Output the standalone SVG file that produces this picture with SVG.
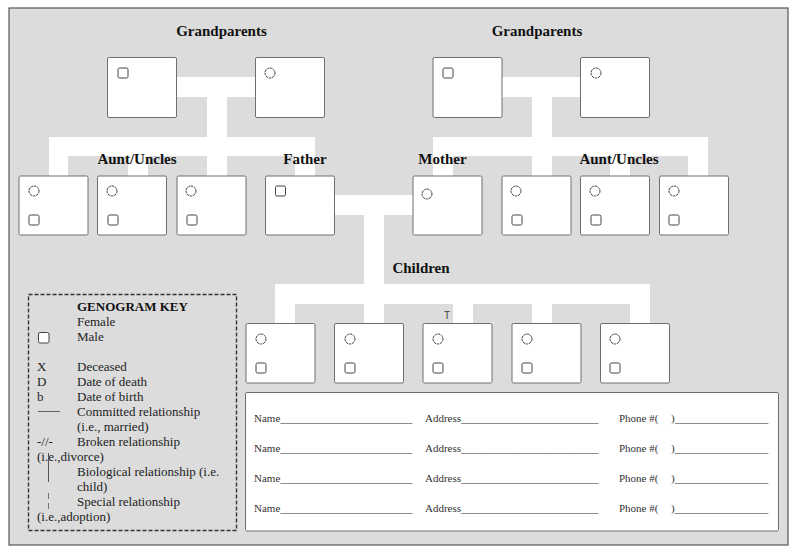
<svg xmlns="http://www.w3.org/2000/svg" width="800" height="556" viewBox="0 0 800 556">
<style>
.frame{fill:#dcdcdc;stroke:#555;stroke-width:1.2}
.conn rect{fill:#fff;stroke:none}
.box{fill:#fff;stroke:#6e6e6e;stroke-width:1}
.sq{fill:#fff;stroke:#444;stroke-width:1}
.ci{fill:#fff;stroke:#444;stroke-width:1;stroke-dasharray:2.6 0.6}
.lbl{font-family:"Liberation Serif",serif;font-weight:bold;font-size:15px;fill:#111;text-anchor:middle}
.key{font-family:"Liberation Serif",serif;font-size:13px;fill:#222}
.keyb{font-family:"Liberation Serif",serif;font-size:13px;font-weight:bold;fill:#111}
.form{font-family:"Liberation Serif",serif;font-size:11px;fill:#333}
.t{font-family:"Liberation Sans",sans-serif;font-size:10px;fill:#444;text-anchor:middle}
</style>
<rect x="0" y="0" width="800" height="556" fill="#fff"/>
<rect class="frame" x="9" y="8" width="779" height="537"/>

<g id="connectors" class="conn">
  <rect x="177" y="77" width="78" height="20"/>
  <rect x="207" y="97" width="20" height="79"/>
  <rect x="49" y="137" width="266" height="19"/>
  <rect x="49" y="156" width="19" height="20"/>
  <rect x="128" y="156" width="20" height="20"/>
  <rect x="295" y="156" width="20" height="20"/>
  <rect x="502" y="77" width="78" height="20"/>
  <rect x="532" y="97" width="20" height="79"/>
  <rect x="433" y="137" width="275" height="19"/>
  <rect x="433" y="156" width="20" height="20"/>
  <rect x="610" y="156" width="20" height="20"/>
  <rect x="688" y="156" width="20" height="20"/>
  <rect x="335" y="195" width="78" height="20"/>
  <rect x="364" y="215" width="20" height="108"/>
  <rect x="275" y="284" width="375" height="20"/>
  <rect x="275" y="304" width="20" height="19"/>
  <rect x="453" y="304" width="20" height="19"/>
  <rect x="532" y="304" width="20" height="19"/>
  <rect x="630" y="304" width="20" height="19"/>
</g>

<g id="labels">
  <text class="lbl" x="221.5" y="36">Grandparents</text>
  <text class="lbl" x="537" y="36">Grandparents</text>
  <text class="lbl" x="137" y="164">Aunt/Uncles</text>
  <text class="lbl" x="305" y="164">Father</text>
  <text class="lbl" x="442.5" y="164">Mother</text>
  <text class="lbl" x="619" y="164">Aunt/Uncles</text>
  <text class="lbl" x="421" y="273">Children</text>
  <text class="t" x="447" y="319">T</text>
</g>

<g id="gp-left-1"><rect class="box" x="107.5" y="57.5" width="69" height="60" rx="1.5"/><rect class="sq" x="118" y="68" width="10" height="10" rx="1.5"/></g>
<g id="gp-left-2"><rect class="box" x="255.5" y="57.5" width="69" height="60" rx="1.5"/><circle class="ci" cx="270" cy="73" r="5"/></g>
<g id="gp-right-1"><rect class="box" x="433" y="57.5" width="69" height="60" rx="1.5"/><rect class="sq" x="443" y="68" width="10" height="10" rx="1.5"/></g>
<g id="gp-right-2"><rect class="box" x="580.5" y="57.5" width="69" height="60" rx="1.5"/><circle class="ci" cx="596" cy="73" r="5"/></g>

<g id="aunt-left-1"><rect class="box" x="19" y="176" width="69" height="59" rx="1.5"/><circle class="ci" cx="34" cy="191" r="5"/><rect class="sq" x="29" y="215" width="10" height="10" rx="1.5"/></g>
<g id="aunt-left-2"><rect class="box" x="97.5" y="176" width="69" height="59" rx="1.5"/><circle class="ci" cx="112" cy="191" r="5"/><rect class="sq" x="108" y="215" width="10" height="10" rx="1.5"/></g>
<g id="aunt-left-3"><rect class="box" x="177" y="176" width="69" height="59" rx="1.5"/><circle class="ci" cx="191" cy="191" r="5"/><rect class="sq" x="187" y="215" width="10" height="10" rx="1.5"/></g>
<g id="father"><rect class="box" x="265.5" y="176" width="69" height="59" rx="1.5"/><rect class="sq" x="275.5" y="186" width="10" height="10" rx="1.5"/></g>
<g id="mother"><rect class="box" x="413" y="176" width="69" height="59" rx="1.5"/><circle class="ci" cx="427" cy="194" r="5"/></g>
<g id="aunt-right-1"><rect class="box" x="502" y="176" width="69" height="59" rx="1.5"/><circle class="ci" cx="516" cy="191" r="5"/><rect class="sq" x="512" y="215" width="10" height="10" rx="1.5"/></g>
<g id="aunt-right-2"><rect class="box" x="580.5" y="176" width="69" height="59" rx="1.5"/><circle class="ci" cx="595" cy="191" r="5"/><rect class="sq" x="591" y="215" width="10" height="10" rx="1.5"/></g>
<g id="aunt-right-3"><rect class="box" x="659.5" y="176" width="69" height="59" rx="1.5"/><circle class="ci" cx="674" cy="191" r="5"/><rect class="sq" x="669" y="215" width="10" height="10" rx="1.5"/></g>

<g id="child-1"><rect class="box" x="246" y="323.5" width="69" height="59.5" rx="1.5"/><circle class="ci" cx="261" cy="339" r="5"/><rect class="sq" x="256" y="363" width="10" height="10" rx="1.5"/></g>
<g id="child-2"><rect class="box" x="334.5" y="323.5" width="69" height="59.5" rx="1.5"/><circle class="ci" cx="350" cy="339" r="5"/><rect class="sq" x="345" y="363" width="10" height="10" rx="1.5"/></g>
<g id="child-3"><rect class="box" x="423" y="323.5" width="69" height="59.5" rx="1.5"/><circle class="ci" cx="438" cy="339" r="5"/><rect class="sq" x="433" y="363" width="10" height="10" rx="1.5"/></g>
<g id="child-4"><rect class="box" x="512" y="323.5" width="69" height="59.5" rx="1.5"/><circle class="ci" cx="527" cy="339" r="5"/><rect class="sq" x="522" y="363" width="10" height="10" rx="1.5"/></g>
<g id="child-5"><rect class="box" x="600.5" y="323.5" width="69" height="59.5" rx="1.5"/><circle class="ci" cx="615" cy="339" r="5"/><rect class="sq" x="610" y="363" width="10" height="10" rx="1.5"/></g>

<g id="key">
  <rect x="28.5" y="294.5" width="208" height="236" fill="none" stroke="#333" stroke-width="1.4" stroke-dasharray="4 2"/>
  <text class="keyb" x="77" y="311">GENOGRAM KEY</text>
  <text class="key" x="77" y="326">Female</text>
  <rect class="sq" x="38.5" y="332.5" width="10.5" height="10.5" rx="1.5"/>
  <text class="key" x="77" y="341">Male</text>
  <text class="key" x="37" y="371">X</text><text class="key" x="77" y="371">Deceased</text>
  <text class="key" x="37" y="386">D</text><text class="key" x="77" y="386">Date of death</text>
  <text class="key" x="37" y="401">b</text><text class="key" x="77" y="401">Date of birth</text>
  <line x1="38" y1="411.5" x2="60" y2="411.5" stroke="#444" stroke-width="0.8"/>
  <text class="key" x="77" y="416">Committed relationship</text>
  <text class="key" x="77" y="431">(i.e., married)</text>
  <text class="key" x="37" y="446">-//-</text><text class="key" x="77" y="446">Broken relationship</text>
  <text class="key" x="37" y="461">(i.e.,divorce)</text>
  <line x1="48.5" y1="453" x2="48.5" y2="482" stroke="#555" stroke-width="1"/>
  <text class="key" x="77" y="476">Biological relationship (i.e.</text>
  <text class="key" x="77" y="491">child)</text>
  <line x1="48.5" y1="493" x2="48.5" y2="512" stroke="#777" stroke-width="1" stroke-dasharray="6 4"/>
  <text class="key" x="77" y="506">Special relationship</text>
  <text class="key" x="37" y="521">(i.e.,adoption)</text>
</g>

<g id="contacts">
  <rect class="box" x="245.5" y="392.5" width="533" height="138.5" rx="1.5"/>
  <text class="form" x="254" y="422">Name________________________</text>
  <text class="form" x="425" y="422">Address_________________________</text>
  <text class="form" x="619" y="422">Phone #(<tspan x="671">)_________________</tspan></text>
  <text class="form" x="254" y="452">Name________________________</text>
  <text class="form" x="425" y="452">Address_________________________</text>
  <text class="form" x="619" y="452">Phone #(<tspan x="671">)_________________</tspan></text>
  <text class="form" x="254" y="482">Name________________________</text>
  <text class="form" x="425" y="482">Address_________________________</text>
  <text class="form" x="619" y="482">Phone #(<tspan x="671">)_________________</tspan></text>
  <text class="form" x="254" y="512">Name________________________</text>
  <text class="form" x="425" y="512">Address_________________________</text>
  <text class="form" x="619" y="512">Phone #(<tspan x="671">)_________________</tspan></text>
</g>
</svg>
